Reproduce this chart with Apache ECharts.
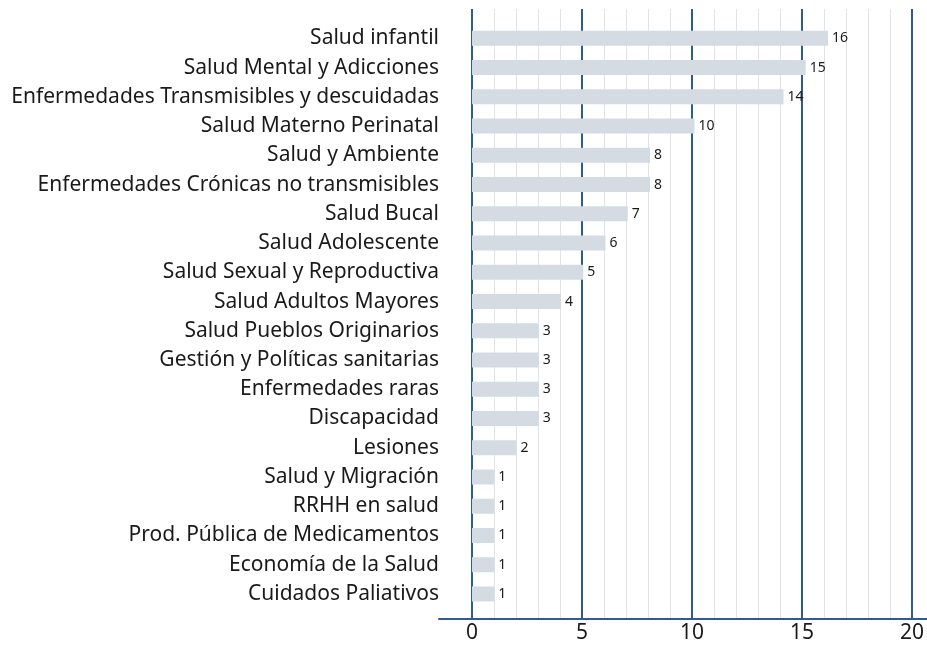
<!DOCTYPE html>
<html>
<head>
<meta charset="utf-8">
<script src="https://cdn.jsdelivr.net/npm/echarts@6/dist/echarts.min.js"></script>
<style>
  html, body { margin: 0; padding: 0; background: #fff; }
  #bar_chart { width: 927px; height: 646px; }
</style>
</head>
<body>
<div id="bar_chart"></div>
<script>
// top to bottom, as in the picture
const categories = [
  'Salud infantil',
  'Salud Mental y Adicciones',
  'Enfermedades Transmisibles y descuidadas',
  'Salud Materno Perinatal',
  'Salud y Ambiente',
  'Enfermedades Crónicas no transmisibles',
  'Salud Bucal',
  'Salud Adolescente',
  'Salud Sexual y Reproductiva',
  'Salud Adultos Mayores',
  'Salud Pueblos Originarios',
  'Gestión y Políticas sanitarias',
  'Enfermedades raras',
  'Discapacidad',
  'Lesiones',
  'Salud y Migración',
  'RRHH en salud',
  'Prod. Pública de Medicamentos',
  'Economía de la Salud',
  'Cuidados Paliativos'
];
const values = [16, 15, 14, 10, 8, 8, 7, 6, 5, 4, 3, 3, 3, 3, 2, 1, 1, 1, 1, 1];
const xTicks = [0, 5, 10, 15, 20];

const darkBlue = '#2e5b94';
const textColor = '#1a1a1a';
const font = 'Noto Sans';

const chartDom = document.getElementById('bar_chart');
const myChart = echarts.init(chartDom);

const xMin = xTicks[0];
const xMax = xTicks[xTicks.length - 1];

const option = {
    animation: false,
    grid: [
        // bars and category labels
        { left: 472, right: 10, top: 23.7, bottom: 37.4 },
        // grid lines and value labels, taller than the bar area
        { left: 472, right: 10, top: 9, bottom: 27 },
        // only the bottom axis line, running past the zero line
        { left: 439, right: 0, top: 9, bottom: 27 }
    ],
    xAxis: [
        {
            type: 'value',
            gridIndex: 0,
            min: xMin,
            max: xMax,
            show: false
        },
        {
            type: 'value',
            gridIndex: 1,
            min: xMin,
            max: xMax,
            interval: 5,
            axisLine: { show: false },
            axisTick: { show: false },
            axisLabel: {
                color: textColor,
                fontFamily: font,
                fontSize: 21,
                margin: 4
            },
            splitLine: { show: true, lineStyle: { color: darkBlue, width: 2 } },
            minorTick: { show: false, splitNumber: 5 },
            minorSplitLine: { show: true, lineStyle: { color: '#dfe3ea', width: 1 } }
        },
        {
            type: 'value',
            gridIndex: 2,
            min: 0,
            max: 1,
            axisLine: { show: true, lineStyle: { color: darkBlue, width: 2 } },
            axisTick: { show: false },
            axisLabel: { show: false },
            splitLine: { show: false }
        }
    ],
    yAxis: [
        {
            type: 'category',
            gridIndex: 0,
            data: categories,
            inverse: true,
            axisLine: { show: false },
            axisTick: { show: false },
            axisLabel: {
                color: textColor,
                fontFamily: font,
                fontSize: 21,
                margin: 33
            }
        },
        { type: 'value', gridIndex: 1, show: false },
        { type: 'value', gridIndex: 2, show: false }
    ],
    series: [
        {
            type: 'bar',
            xAxisIndex: 0,
            yAxisIndex: 0,
            data: values,
            barWidth: 15,
            itemStyle: { color: '#d4dbe3' },
            label: {
                show: true,
                position: 'right',
                distance: 4,
                color: textColor,
                fontFamily: font,
                fontSize: 14
            }
        }
    ]
};

myChart.setOption(option);
</script>
</body>
</html>
